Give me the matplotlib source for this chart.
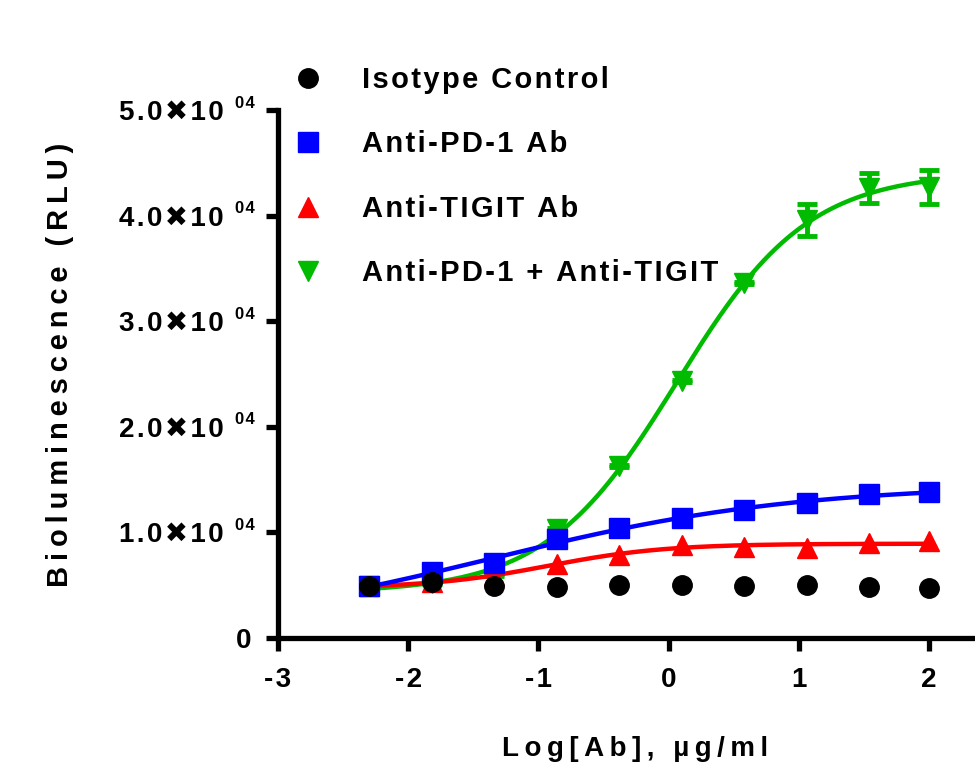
import numpy as np
import matplotlib
matplotlib.use("Agg")
import matplotlib.pyplot as plt
import matplotlib.transforms as mtransforms

plt.rcParams['font.family'] = ['Liberation Sans', 'DejaVu Sans']
plt.rcParams['font.weight'] = 'bold'
plt.rcParams['axes.labelweight'] = 'bold'

# log concentration of antibody
log_ab = [-2.3, -1.82, -1.34, -0.86, -0.38, 0.1, 0.58, 1.06, 1.54, 2.0]

isotype = [4900, 5300, 4900, 4800, 5000, 5000, 4900, 5000, 4800, 4700]
anti_pd1 = [4900, 6250, 7100, 9400, 10400, 11400, 12100, 12800, 13600, 13800]
anti_tigit = [4900, 5300, 5900, 7000, 7900, 8800, 8600, 8500, 9000, 9200]
combo = [4900, 5200, 6000, 10300, 16300, 24300, 33600, 39600, 42600, 42700]
combo_err = [100, 100, 100, 100, 100, 100, 100, 1500, 1400, 1600]

labels = ['Isotype Control', 'Anti-PD-1 Ab', 'Anti-TIGIT Ab', 'Anti-PD-1 + Anti-TIGIT']
x_ticks = [-3, -2, -1, 0, 1, 2]
y_ticks = [0, 10000, 20000, 30000, 40000, 50000]


def track(s, gap='\u200a'):
    # fake the wide letter spacing of the original
    return gap.join(s)


def fit4pl(x, y):
    # grid over logEC50 / hill, linear least squares for bottom and top
    x = np.asarray(x, float)
    y = np.asarray(y, float)
    ec = np.linspace(-2.5, 2.5, 401)[:, None, None]
    h = np.linspace(0.3, 3.0, 271)[None, :, None]
    s = 1.0 / (1.0 + 10 ** ((ec - x) * h))
    sm = s.mean(-1, keepdims=True)
    ym = y.mean()
    slope = ((s - sm) * (y - ym)).sum(-1, keepdims=True) / ((s - sm) ** 2).sum(-1, keepdims=True)
    icpt = ym - slope * sm
    err = ((icpt + slope * s - y) ** 2).sum(-1)
    i, j = np.unravel_index(np.argmin(err), err.shape)
    return icpt[i, j, 0], slope[i, j, 0], ec[i, 0, 0], h[0, j, 0]


def curve(p, xx):
    b, span, ec, h = p
    return b + span / (1.0 + 10 ** ((ec - xx) * h))


fig = plt.figure(figsize=(9.75, 7.74), dpi=100)
ax = fig.add_axes([0.2851, 0.1757, 0.7149, 0.6822])

xx = np.linspace(min(log_ab), max(log_ab), 300)
lw = 3.2
ms = 14

# curves
ax.plot(xx, curve(fit4pl(log_ab, combo), xx), color='#00bb00', lw=lw, zorder=2)
ax.plot(xx, curve(fit4pl(log_ab, anti_tigit), xx), color='#ff0000', lw=lw, zorder=3)
ax.plot(xx, curve(fit4pl(log_ab, anti_pd1), xx), color='#0000ff', lw=lw, zorder=4)

# markers
ax.errorbar(log_ab, combo, yerr=combo_err, fmt='none', ecolor='#00bb00',
            elinewidth=3.5, capsize=7, capthick=3.5, zorder=2)
ax.plot(log_ab, combo, 'v', color='#00bb00', ms=ms, label=track(labels[3]), zorder=2, clip_on=False)
ax.plot(log_ab, anti_tigit, '^', color='#ff0000', ms=ms, label=track(labels[2]), zorder=3, clip_on=False)
ax.plot(log_ab, anti_pd1, 's', color='#0000ff', ms=ms, label=track(labels[1]), zorder=4, clip_on=False)
ax.plot(log_ab, isotype, 'o', color='black', ms=ms, label=track(labels[0]), zorder=5, clip_on=False)

ax.set_xlim(-3, 2.353)
ax.set_ylim(0, 50000)
ax.set_xticks(x_ticks)
ax.set_xticklabels([track(str(v)) for v in x_ticks])
ax.set_yticks(y_ticks)
ax.set_yticklabels(['0'] + [track('%.1f\u271610' % (v / 10000)) for v in y_ticks[1:]])

for side in ['top', 'right']:
    ax.spines[side].set_visible(False)
for side in ['left', 'bottom']:
    ax.spines[side].set_linewidth(3.8)
ax.tick_params(axis='both', direction='out', length=9, width=3.8, labelsize=20)
ax.tick_params(axis='x', pad=12)
ax.tick_params(axis='y', pad=30)
ax.yaxis.get_major_ticks()[0].set_pad(10)

# superscript exponents on the y tick labels
trans = mtransforms.blended_transform_factory(ax.transAxes, ax.transData)
for v in y_ticks[1:]:
    ax.annotate(track('04'), xy=(0, v), xycoords=trans, xytext=(-31, 5),
                textcoords='offset points', ha='left', va='center', fontsize=12,
                annotation_clip=False)

ax.set_ylabel(track('Bioluminescence (RLU)', '\u2009'), fontsize=21)
ax.yaxis.set_label_coords(-0.293, 0.517)
ax.set_xlabel(track('Log[Ab], \u00b5g/ml', '\u2009'), fontsize=20)
ax.xaxis.set_label_coords(0.512, -0.185)

handles, lbls = ax.get_legend_handles_labels()
order = [3, 2, 1, 0]
leg = ax.legend([handles[i] for i in order], [lbls[i] for i in order],
                loc='upper left', bbox_to_anchor=(294 / 975, 1 - 66 / 774),
                bbox_transform=fig.transFigure, frameon=False, fontsize=21,
                handlelength=0.95, handletextpad=1.37, labelspacing=1.25,
                borderpad=0, borderaxespad=0, numpoints=1)

fig.savefig('out.png', dpi=100)
